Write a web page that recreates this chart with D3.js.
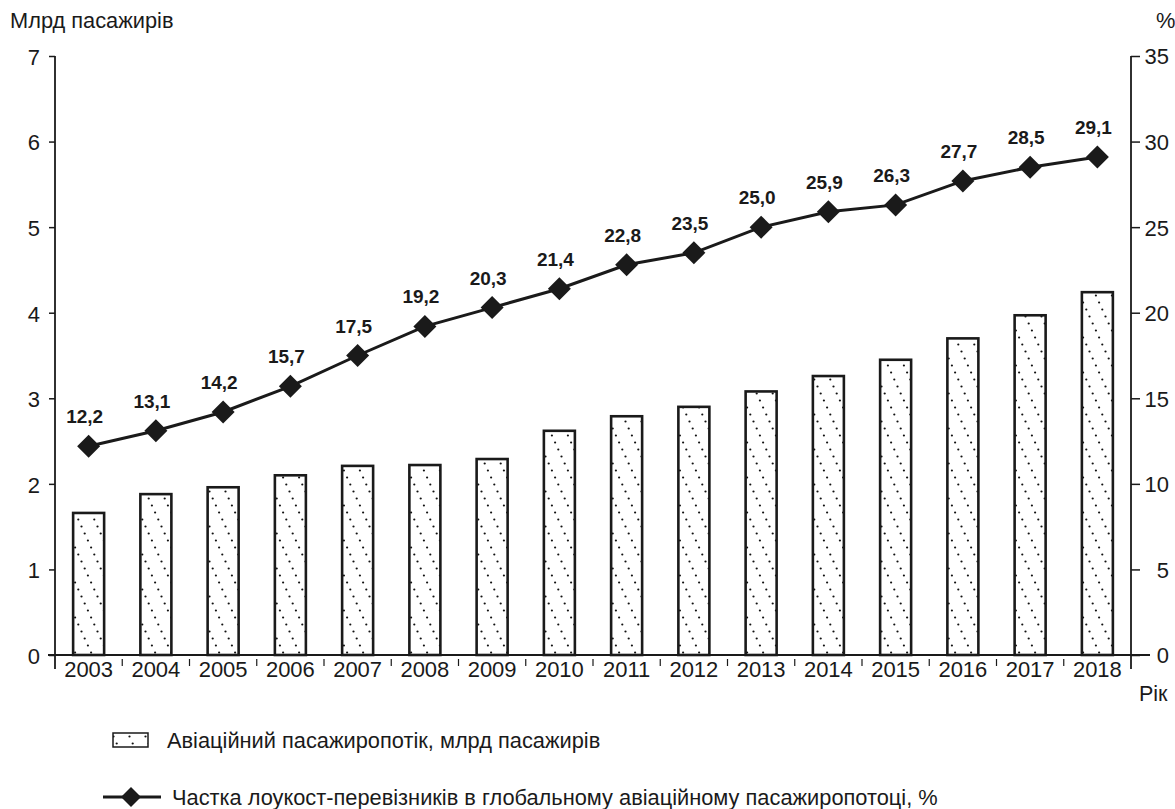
<!DOCTYPE html>
<html>
<head>
<meta charset="utf-8">
<script src="https://cdn.jsdelivr.net/npm/d3@7"></script>
<style>
  html, body { margin: 0; padding: 0; background: #fff; }
  svg { display: block; font-family: "Liberation Sans", Arial, sans-serif; }
</style>
</head>
<body>
<svg id="chart" width="1175" height="809"></svg>
<script>
// Years on the category axis
const years = ["2003","2004","2005","2006","2007","2008","2009","2010",
               "2011","2012","2013","2014","2015","2016","2017","2018"];
// Global air passenger traffic, billion passengers
const passengers = [1.66, 1.88, 1.96, 2.10, 2.21, 2.22, 2.29, 2.62,
                    2.79, 2.90, 3.08, 3.26, 3.45, 3.70, 3.97, 4.24];
// Low-cost carriers' share of global traffic, %
const lowCostShare = [12.2, 13.1, 14.2, 15.7, 17.5, 19.2, 20.3, 21.4,
                      22.8, 23.5, 25.0, 25.9, 26.3, 27.7, 28.5, 29.1];
const leftTicks = [0, 1, 2, 3, 4, 5, 6, 7];
const rightTicks = [0, 5, 10, 15, 20, 25, 30, 35];

(function () {
const svg = d3.select("#chart");
const plotLeft = 55, plotRight = 1131, plotTop = 56, plotBottom = 655;
const ink = "#1a1a1a";

const x = d3.scaleBand().domain(years).range([plotLeft, plotRight]).paddingInner(0).paddingOuter(0);
const yL = d3.scaleLinear().domain([0, 7]).range([plotBottom, plotTop]);
const yR = d3.scaleLinear().domain([0, 35]).range([plotBottom, plotTop]);
const barW = 31;

// Dotted diagonal hatch fill
const defs = svg.append("defs");
const pat = defs.append("pattern")
  .attr("id", "dots")
  .attr("patternUnits", "userSpaceOnUse")
  .attr("width", 16).attr("height", 35);
pat.append("rect").attr("width", 16).attr("height", 35).attr("fill", "#fff");
d3.range(5).forEach(i => {
  pat.append("circle")
    .attr("cx", 1.5 + i * 16 / 5).attr("cy", 1.5 + i * 35 / 5)
    .attr("r", 1.1).attr("fill", "#111");
});

// Bars
svg.append("g").selectAll("rect")
  .data(years)
  .join("rect")
  .attr("x", (d) => x(d) + x.bandwidth() / 2 - barW / 2)
  .attr("y", (d, i) => yL(passengers[i]))
  .attr("width", barW)
  .attr("height", (d, i) => plotBottom - yL(passengers[i]))
  .attr("fill", "url(#dots)")
  .attr("stroke", ink)
  .attr("stroke-width", 2.6);

// Left axis
const axL = svg.append("g").attr("transform", `translate(${plotLeft},0)`)
  .call(d3.axisLeft(yL).tickValues(leftTicks).tickSize(6).tickPadding(9).tickFormat(d3.format("d")));
axL.select(".domain").remove();
axL.selectAll("line").attr("stroke", ink).attr("stroke-width", 1.5);
axL.selectAll("text").attr("font-size", 22).attr("fill", ink).attr("dy", "0.38em");
svg.append("line").attr("x1", plotLeft).attr("x2", plotLeft).attr("y1", plotTop).attr("y2", 669)
  .attr("stroke", ink).attr("stroke-width", 1.8);

// Right axis: labels right-aligned after the ticks
const axR = svg.append("g").attr("transform", `translate(${plotRight},0)`)
  .call(d3.axisRight(yR).tickValues(rightTicks).tickSize(9).tickPadding(0).tickFormat(d3.format("d")));
axR.select(".domain").remove();
axR.selectAll("line").attr("stroke", ink).attr("stroke-width", 1.5);
axR.selectAll("text").attr("font-size", 22).attr("fill", ink).attr("dy", "0.36em")
  .attr("x", 38).attr("text-anchor", "end");
svg.append("line").attr("x1", plotRight).attr("x2", plotRight).attr("y1", plotTop).attr("y2", 669)
  .attr("stroke", ink).attr("stroke-width", 1.8);

// Category axis baseline
svg.append("line").attr("x1", 48).attr("x2", 1150).attr("y1", plotBottom).attr("y2", plotBottom)
  .attr("stroke", ink).attr("stroke-width", 1.8);

// Separators between years
svg.append("g").selectAll("line")
  .data(years.slice(1))
  .join("line")
  .attr("x1", d => x(d)).attr("x2", d => x(d))
  .attr("y1", plotBottom + 4).attr("y2", plotBottom + 11)
  .attr("stroke", ink).attr("stroke-width", 1.2);

// Year labels
svg.append("g").selectAll("text")
  .data(years)
  .join("text")
  .attr("x", d => x(d) + x.bandwidth() / 2)
  .attr("y", 677)
  .attr("text-anchor", "middle")
  .attr("font-size", 22).attr("fill", ink)
  .text(d => d);

// Share line
const cx = d => x(d) + x.bandwidth() / 2;
const line = d3.line().x(d => cx(d)).y((d, i) => yR(lowCostShare[i]));
svg.append("path").datum(years)
  .attr("d", line)
  .attr("fill", "none").attr("stroke", ink).attr("stroke-width", 3);

const diamond = (s) => `M0,${-s}L${s},0L0,${s}L${-s},0Z`;
svg.append("g").selectAll("path")
  .data(years)
  .join("path")
  .attr("transform", (d, i) => `translate(${cx(d)},${yR(lowCostShare[i])})`)
  .attr("d", diamond(11.5))
  .attr("fill", ink);

// Value labels
svg.append("g").selectAll("text")
  .data(years)
  .join("text")
  .attr("x", d => cx(d) - 4)
  .attr("y", (d, i) => yR(lowCostShare[i]) - 23)
  .attr("text-anchor", "middle")
  .attr("font-size", 19).attr("font-weight", "bold").attr("fill", ink)
  .text((d, i) => d3.format(".1f")(lowCostShare[i]).replace(".", ","));

// Axis titles
svg.append("text").attr("x", 10).attr("y", 28).attr("font-size", 21.8).attr("fill", ink).text("Млрд пасажирів");
svg.append("text").attr("x", 1156).attr("y", 28).attr("font-size", 21.8).attr("fill", ink).text("%");
svg.append("text").attr("x", 1139).attr("y", 701).attr("font-size", 21.5).attr("fill", ink).text("Рік");

// Legend
svg.append("rect").attr("x", 113).attr("y", 733).attr("width", 35).attr("height", 14)
  .attr("fill", "url(#dots)").attr("stroke", ink).attr("stroke-width", 1.5);
svg.append("text").attr("x", 167).attr("y", 748).attr("font-size", 21.8).attr("fill", ink)
  .text("Авіаційний пасажиропотік, млрд пасажирів");
svg.append("line").attr("x1", 103).attr("x2", 161).attr("y1", 797).attr("y2", 797)
  .attr("stroke", ink).attr("stroke-width", 3);
svg.append("path").attr("transform", "translate(131,797)").attr("d", diamond(10)).attr("fill", ink);
svg.append("text").attr("x", 172).attr("y", 805).attr("font-size", 21.8).attr("fill", ink)
  .text("Частка лоукост-перевізників в глобальному авіаційному пасажиропотоці, %");
})();
</script>
</body>
</html>
